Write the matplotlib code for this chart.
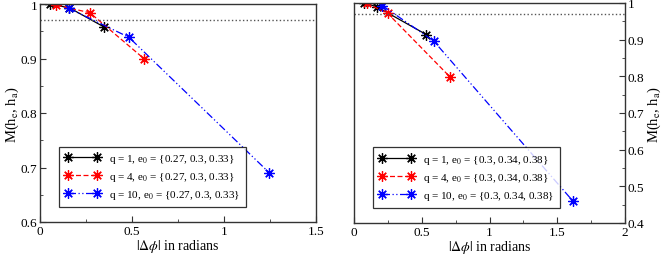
import matplotlib.pyplot as plt

plt.rcParams["font.family"] = ["Liberation Serif", "DejaVu Serif"]
plt.rcParams["mathtext.fontset"] = "stix"

# ---------------- data: left panel, e0 = {0.27, 0.3, 0.33}
left_q1_x = [0.054, 0.160, 0.347]
left_q1_y = [1.000, 0.993, 0.958]
left_q4_x = [0.089, 0.271, 0.564]
left_q4_y = [0.998, 0.984, 0.900]
left_q10_x = [0.157, 0.483, 1.247]
left_q10_y = [0.992, 0.939, 0.690]

# ---------------- data: right panel, e0 = {0.3, 0.34, 0.38}
right_q1_x = [0.074, 0.167, 0.533]
right_q1_y = [1.000, 0.990, 0.914]
right_q4_x = [0.093, 0.248, 0.712]
right_q4_y = [0.999, 0.972, 0.797]
right_q10_x = [0.209, 0.589, 1.615]
right_q10_y = [0.993, 0.896, 0.460]

threshold = 0.97

left_labels = [
    "q = 1, e$_\\mathrm{0}$ = {0.27, 0.3, 0.33}",
    "q = 4, e$_\\mathrm{0}$ = {0.27, 0.3, 0.33}",
    "q = 10, e$_\\mathrm{0}$ = {0.27, 0.3, 0.33}",
]
right_labels = [
    "q = 1, e$_\\mathrm{0}$ = {0.3, 0.34, 0.38}",
    "q = 4, e$_\\mathrm{0}$ = {0.3, 0.34, 0.38}",
    "q = 10, e$_\\mathrm{0}$ = {0.3, 0.34, 0.38}",
]

colors = ["black", "#ff0000", "#0000ff"]
styles = ["-", (0, (4, 2)), (0, (6, 2, 1, 2, 1, 2))]
star = (8, 2, 0)

ylab = "M(h$_\\mathrm{e}$, h$_\\mathrm{a}$)"

fig = plt.figure(figsize=(6.64, 2.55), dpi=100)
ax1 = fig.add_axes([40 / 664, 32 / 255, 276 / 664, 218 / 255])
ax2 = fig.add_axes([354 / 664, 31 / 255, 271 / 664, 220 / 255])


def draw(ax, xs, ys, labels):
    for x, y, lab, c, ls in zip(xs, ys, labels, colors, styles):
        ax.plot(x, y, color=c, linestyle=ls, linewidth=0.9,
                marker=star, markersize=7.5, markeredgewidth=0.9,
                label=lab)
    ax.axhline(threshold, color="#555555", linestyle=":", linewidth=1.0)
    for s in ax.spines.values():
        s.set_color("#333333")
        s.set_linewidth(1.0)
    ax.tick_params(which="both", direction="in", labelsize=9.5,
                   color="#333333", pad=2)
    ax.tick_params(which="major", length=4)
    ax.tick_params(which="minor", length=2)
    ax.set_xlabel(r"$|\Delta\phi|$ in radians", fontsize=10, labelpad=0)
    leg = ax.legend(loc="lower left", bbox_to_anchor=(0.05, 0.045),
                    numpoints=2, fontsize=8, frameon=True, fancybox=False,
                    edgecolor="black", handlelength=3.2,
                    borderpad=0.5, labelspacing=0.45)
    leg.get_frame().set_linewidth(0.9)


draw(ax1, [left_q1_x, left_q4_x, left_q10_x],
     [left_q1_y, left_q4_y, left_q10_y], left_labels)
ax1.set_xlim(0, 1.5)
ax1.set_ylim(0.6, 1.0)
ax1.set_xticks([0, 0.5, 1, 1.5])
ax1.set_xticklabels(["0", "0.5", "1", "1.5"])
ax1.set_xticks([0.25, 0.75, 1.25], minor=True)
ax1.set_yticks([0.6, 0.7, 0.8, 0.9, 1.0])
ax1.set_yticklabels(["0.6", "0.7", "0.8", "0.9", "1"])
ax1.set_yticks([0.65, 0.75, 0.85, 0.95], minor=True)
ax1.set_ylabel(ylab, fontsize=10.5, labelpad=0)

draw(ax2, [right_q1_x, right_q4_x, right_q10_x],
     [right_q1_y, right_q4_y, right_q10_y], right_labels)
ax2.set_xlim(0, 2)
ax2.set_ylim(0.4, 1.0)
ax2.set_xticks([0, 0.5, 1, 1.5, 2])
ax2.set_xticklabels(["0", "0.5", "1", "1.5", "2"])
ax2.set_xticks([0.25, 0.75, 1.25, 1.75], minor=True)
ax2.set_yticks([0.4, 0.5, 0.6, 0.7, 0.8, 0.9, 1.0])
ax2.set_yticklabels(["0.4", "0.5", "0.6", "0.7", "0.8", "0.9", "1"])
ax2.set_yticks([0.45, 0.55, 0.65, 0.75, 0.85, 0.95], minor=True)
ax2.yaxis.tick_right()
ax2.yaxis.set_label_position("right")
ax2.set_ylabel(ylab, fontsize=10.5, labelpad=1)

fig.savefig("out.png", dpi=100)
